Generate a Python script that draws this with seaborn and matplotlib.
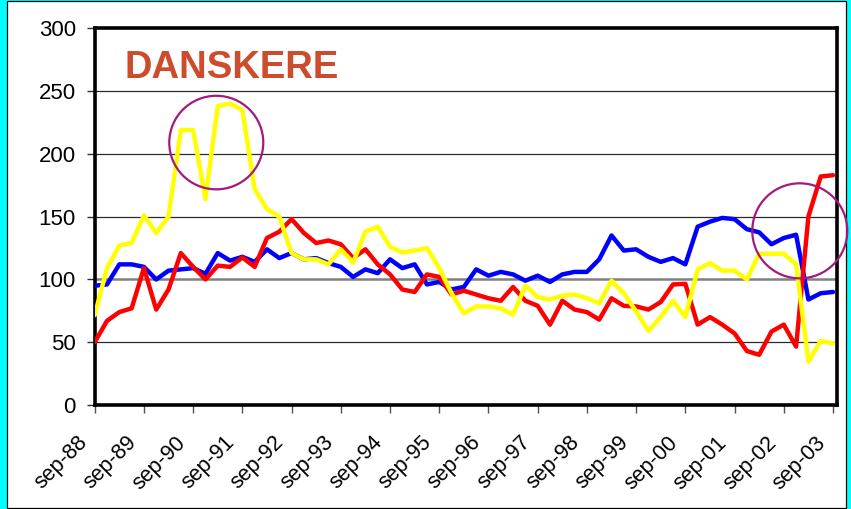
import numpy as np
import pandas as pd
import matplotlib
matplotlib.use("Agg")
import matplotlib.pyplot as plt
import seaborn as sns
from matplotlib.patches import Ellipse, Rectangle
from matplotlib.transforms import ScaledTranslation

# ---- data (quarterly, sep-88 .. sep-03) ----
year_labels = ["sep-88", "sep-89", "sep-90", "sep-91", "sep-92", "sep-93", "sep-94",
               "sep-95", "sep-96", "sep-97", "sep-98", "sep-99", "sep-00", "sep-01",
               "sep-02", "sep-03"]
quarters = list(range(61))

blue_series = [95, 96, 112, 112, 110, 100, 107, 108, 109, 104.5, 121, 115, 118, 114, 124, 117,
               121, 116, 117, 113, 110, 102, 108, 105, 116, 109, 112, 96, 98, 92, 94,
               108, 103, 106, 104, 99, 103, 98, 104, 106, 106, 116, 135, 123, 124, 118, 114,
               117, 112, 142, 146, 149, 148, 140, 137.5, 128, 133, 135.6, 84, 89, 90]
red_series = [50, 67, 74, 77, 109, 76, 92, 121, 110, 100, 111, 110, 117.5, 110, 133, 138,
              148, 137, 129, 131, 128, 117, 124, 112, 104, 92, 90, 104, 102, 88, 91,
              88, 85, 83, 94, 83, 79, 64, 83, 76, 74, 68, 85, 79, 78.5, 76, 82,
              96, 96.5, 64, 70, 64, 57, 43, 40, 58.5, 64, 46.5, 150, 182, 183]
yellow_series = [71.5, 109, 127, 129, 151, 137, 150, 219, 219, 164, 238, 240, 235, 172, 156, 150,
                 121, 116, 116, 112, 124, 113.5, 138, 142, 126, 121.5, 123, 125, 109, 89, 73,
                 78.5, 78.5, 77, 72, 95, 86, 84, 87, 88, 85, 81, 99, 89, 74.5, 59, 70,
                 83, 70, 108, 113, 107, 107, 100, 120.5, 120.5, 120.5, 112, 34.6, 51, 49]

series_names = ["Serie 1", "Serie 2", "Serie 3"]
series_colors = ["#0000FF", "#FF0000", "#FFFF00"]

df = pd.DataFrame({
    "kvartal": quarters * 3,
    "indeks": blue_series + red_series + yellow_series,
    "serie": [series_names[0]] * 61 + [series_names[1]] * 61 + [series_names[2]] * 61,
})

sns.set_theme(style="white")
plt.rcParams["font.family"] = ["Liberation Sans", "DejaVu Sans"]

W, H = 851, 509
fig = plt.figure(figsize=(W / 100, H / 100), dpi=100, facecolor="#00FFFF")
fig.patches.append(Rectangle((7 / W, 1 - 507.5 / H), (846 - 7) / W, (507.5 - 0.5) / H,
                             transform=fig.transFigure, facecolor="white",
                             edgecolor="black", linewidth=0.9, zorder=-10))

ax = fig.add_axes([94.7 / W, 1 - 405 / H, (836.7 - 94.7) / W, (405 - 28.3) / H])
ax.set_zorder(2)
ax.set_facecolor("white")

# gridlines
for gy in [50, 150, 200, 250]:
    ax.axhline(gy, color="#2a2a2a", linewidth=0.9, zorder=1)
ax.axhline(100, color="#808080", linewidth=1.8, zorder=1)

sns.lineplot(data=df, x="kvartal", y="indeks", hue="serie", hue_order=series_names,
             palette=dict(zip(series_names, series_colors)), linewidth=3.2,
             legend=False, sort=False, ax=ax, zorder=3)

ax.set_xlim(0, 60.3)
ax.set_ylim(0, 300)
ax.set_xlabel("")
ax.set_ylabel("")

ax.set_yticks(range(0, 301, 50))
ax.set_yticklabels([str(v) for v in range(0, 301, 50)], fontsize=16, color="black")
ax.set_xticks(range(0, 61, 4))
ax.set_xticklabels(year_labels, fontsize=15.5, rotation=45, ha="right", va="top",
                   rotation_mode="anchor", color="black")

ax.tick_params(axis="y", direction="out", length=5.5, width=1, color="#303030", pad=8,
               left=True)
ax.tick_params(axis="x", direction="out", length=5.5, width=1, color="#505050", pad=14,
               bottom=True)

for s in ax.spines.values():
    s.set_visible(True)
    s.set_color("black")
    s.set_linewidth(2.6)

# title inside plot
ax.text(124 / W, 1 - 78.3 / H, "DANSKERE", transform=fig.transFigure, fontsize=27.5,
        fontweight="bold", color="#CC4C2C", ha="left", va="baseline", zorder=6)

# highlight circles
circle_color = "#A3197E"
ax.add_patch(Ellipse((9.88, 209), 7.64, 74.5, fill=False, edgecolor=circle_color,
                     linewidth=1.6, clip_on=False, zorder=5))
ax.add_patch(Ellipse((57.3, 138.7), 7.72, 75.7, fill=False, edgecolor=circle_color,
                     linewidth=1.6, clip_on=False, zorder=5))

for lbl in ax.get_xticklabels():
    lbl.set_transform(lbl.get_transform() + ScaledTranslation(-0.18, 0, fig.dpi_scale_trans))

fig.savefig("out.png", dpi=100, facecolor=fig.get_facecolor())
